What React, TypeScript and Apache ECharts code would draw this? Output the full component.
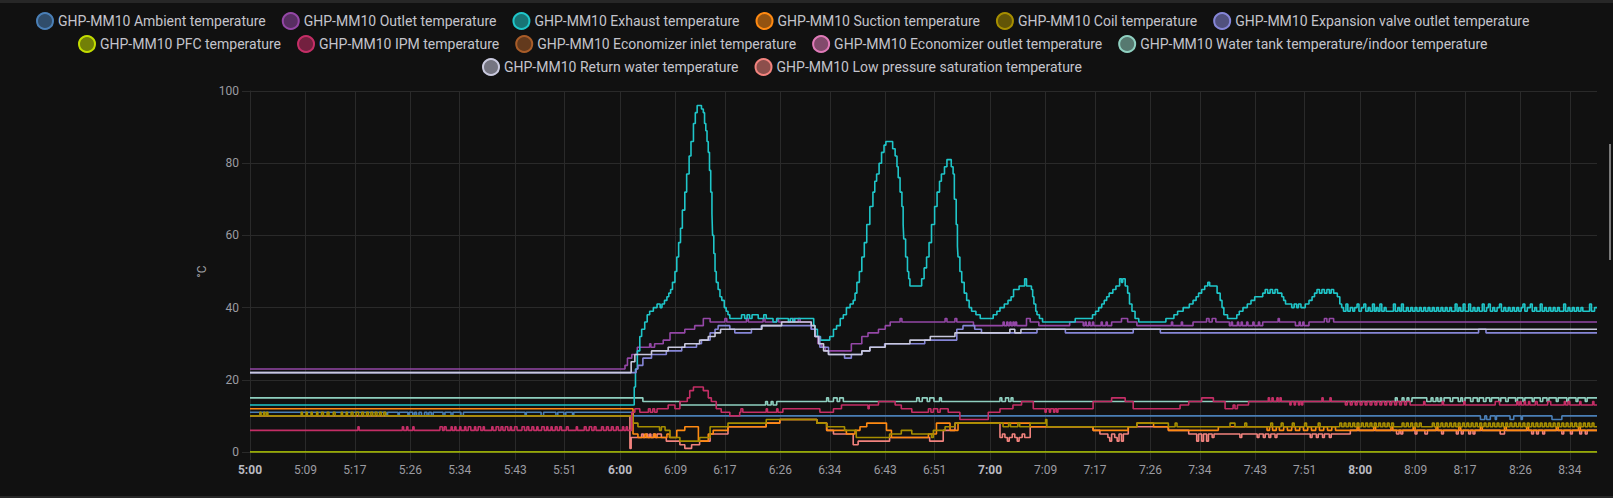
import { useEffect, useRef } from 'react';
import * as echarts from 'echarts';

// minutes after 5:00 → value (°C); every series is a step line that changes at the given minute
const X_MAX = 218.4;
const xTicks = [0, 9, 17, 26, 34, 43, 51, 60, 69, 77, 86, 94, 103, 111, 120, 129, 137, 146, 154, 163, 171, 180, 189, 197, 206, 214];

const seriesNames = [
  'GHP-MM10 Ambient temperature',
  'GHP-MM10 Outlet temperature',
  'GHP-MM10 Exhaust temperature',
  'GHP-MM10 Suction temperature',
  'GHP-MM10 Coil temperature',
  'GHP-MM10 Expansion valve outlet temperature',
  'GHP-MM10 PFC temperature',
  'GHP-MM10 IPM temperature',
  'GHP-MM10 Economizer inlet temperature',
  'GHP-MM10 Economizer outlet temperature',
  'GHP-MM10 Water tank temperature/indoor temperature',
  'GHP-MM10 Return water temperature',
  'GHP-MM10 Low pressure saturation temperature',
];

const lineColors = [
  '#4a7fb6', '#9447a6', '#1fc6c9', '#ff8a12', '#a68e00', '#8686d8', '#c2dc00',
  '#c42e66', '#a85c28', '#e07ab8', '#8fd0c0', '#c9c9de', '#f2837e',
];

const ambientData = [
  [0, 11], [22.1, 10], [22.3, 11], [24.0, 10], [24.2, 11], [25.6, 10], [25.8, 11], [26.4, 10], [26.7, 11],
  [27.0, 10], [27.4, 11], [27.8, 10], [28.3, 11], [28.7, 10], [29.0, 11], [29.4, 10], [29.7, 11], [31.3, 10],
  [31.6, 11], [32.6, 10], [32.9, 11], [34.2, 10], [34.6, 11], [44.6, 10], [44.8, 11], [47.2, 10], [47.6, 11],
  [49.6, 10], [49.9, 11], [50.9, 10], [51.2, 11], [52.3, 10], [52.5, 11], [62.1, 10], [199.5, 9], [200.2, 10],
  [200.5, 9], [201.1, 10], [201.9, 9], [202.1, 10], [204.3, 9], [204.9, 10], [206.1, 9], [206.3, 10],
  [211.1, 9], [212.7, 10], [218.4, 10],
];

const outletData = [
  [0, 23], [60.8, 24], [61.2, 26], [61.9, 27], [62.8, 29], [64.8, 30], [65.0, 29], [65.6, 30], [67.0, 31],
  [68.1, 33], [70.5, 34], [72.1, 35], [73.5, 37], [74.6, 36], [77.0, 37], [77.3, 36], [80.5, 37], [80.8, 36],
  [83.2, 37], [83.5, 36], [85.4, 37], [85.7, 36], [88.0, 37], [88.3, 36], [88.9, 37], [89.2, 36], [91.0, 34],
  [91.6, 32], [92.1, 30], [92.7, 29], [93.3, 28], [97.5, 30], [99.2, 32], [100.2, 33], [101.9, 34], [103.0, 35],
  [103.8, 36], [105.4, 37], [105.7, 36], [112.7, 37], [113.0, 36], [114.3, 37], [114.6, 36], [117.3, 35],
  [122.1, 36], [122.3, 35], [122.7, 36], [122.9, 35], [123.2, 36], [123.4, 35], [123.7, 36], [123.9, 35],
  [124.1, 36], [124.3, 35], [125.9, 37], [126.5, 36], [127.9, 35], [132.9, 36], [135.1, 35], [135.4, 36],
  [135.6, 35], [136.0, 36], [136.2, 35], [136.6, 36], [136.8, 35], [138.0, 36], [138.2, 35], [138.8, 36],
  [139.0, 35], [139.7, 36], [141.3, 37], [142.3, 36], [143.8, 35], [149.4, 36], [149.6, 35], [151.0, 36],
  [151.2, 35], [152.9, 36], [155.1, 37], [155.5, 36], [156.0, 37], [156.6, 36], [158.8, 35], [159.1, 36],
  [159.3, 35], [160.1, 36], [160.3, 35], [160.7, 36], [160.9, 35], [161.6, 36], [161.8, 35], [162.6, 36],
  [162.8, 35], [163.5, 36], [163.7, 35], [164.2, 36], [166.7, 37], [166.9, 36], [169.5, 35], [170.1, 36],
  [170.3, 35], [170.7, 36], [170.9, 35], [171.7, 36], [174.2, 37], [174.6, 36], [175.0, 37], [175.7, 36],
  [218.4, 36],
];

const exhaustData = [
  [0, 13], [62.0, 13], [62.3, 18], [62.5, 23], [62.8, 28], [63.2, 32], [63.5, 34], [64.0, 36], [64.4, 38],
  [64.8, 39], [65.4, 40], [66.0, 41], [66.5, 40], [66.8, 41], [67.2, 42], [67.6, 43], [67.9, 44], [68.2, 45],
  [68.5, 47], [68.9, 50], [69.2, 54], [69.5, 58], [69.8, 62], [70.1, 67], [70.5, 72], [70.8, 77], [71.2, 82],
  [71.5, 86], [71.9, 91], [72.2, 94], [72.5, 96], [72.9, 96], [73.2, 95], [73.5, 94], [73.7, 91], [73.9, 89],
  [74.1, 86], [74.3, 83], [74.5, 78], [74.7, 72], [74.9, 66], [75.0, 60], [75.2, 55], [75.4, 50], [75.6, 47],
  [75.9, 45], [76.2, 43], [76.5, 42], [76.9, 40], [77.2, 39], [77.5, 38], [77.8, 37], [79.7, 38], [80.2, 37],
  [80.6, 38], [81.0, 37], [81.4, 38], [82.4, 37], [83.3, 38], [83.7, 37], [84.8, 36], [85.4, 37], [87.3, 36],
  [87.6, 37], [88.0, 36], [88.3, 37], [91.1, 37], [91.4, 35], [91.6, 34], [92.0, 32], [92.5, 31], [94.0, 32],
  [94.6, 34], [95.1, 35], [95.7, 37], [96.2, 38], [96.7, 40], [97.3, 41], [97.8, 42], [98.1, 44], [98.4, 47],
  [98.8, 50], [99.2, 54], [99.6, 58], [100.0, 63], [100.5, 68], [101.0, 72], [101.3, 75], [101.6, 77],
  [102.0, 80], [102.4, 83], [102.8, 85], [103.1, 86], [103.9, 86], [104.2, 84], [104.6, 82], [104.9, 79],
  [105.1, 76], [105.4, 72], [105.7, 68], [105.9, 63], [106.0, 59], [106.3, 54], [106.6, 50], [106.8, 48],
  [107.0, 46], [108.5, 46], [108.9, 48], [109.3, 51], [109.7, 54], [110.1, 58], [110.5, 63], [111.0, 68],
  [111.4, 72], [111.8, 75], [112.1, 77], [112.6, 79], [113.0, 81], [113.3, 81], [113.7, 79], [114.0, 77],
  [114.2, 70], [114.5, 63], [114.7, 57], [114.8, 54], [115.1, 50], [115.4, 47], [115.8, 44], [116.2, 42],
  [116.6, 40], [117.0, 39], [117.7, 38], [118.4, 37], [119.4, 37], [120.5, 38], [121.1, 39], [121.6, 40],
  [122.3, 41], [122.9, 42], [123.4, 43], [123.8, 45], [124.7, 46], [125.6, 48], [125.9, 46], [126.7, 45],
  [126.9, 43], [127.1, 41], [127.4, 39], [127.6, 38], [128.0, 37], [128.5, 36], [133.8, 37], [136.6, 38],
  [137.1, 39], [137.6, 40], [138.1, 41], [138.5, 42], [138.9, 43], [139.3, 44], [139.9, 45], [140.4, 46],
  [141.0, 48], [141.3, 47], [141.5, 48], [141.9, 46], [142.3, 44], [142.6, 41], [143.0, 39], [143.5, 37],
  [144.1, 36], [148.5, 37], [149.8, 38], [150.4, 39], [151.3, 40], [152.3, 41], [152.9, 42], [153.4, 43],
  [153.8, 44], [154.3, 45], [154.8, 46], [155.3, 47], [155.6, 46], [156.3, 46], [156.8, 44], [157.3, 42],
  [157.6, 40], [157.9, 38], [158.5, 37], [160.0, 38], [160.4, 39], [161.0, 40], [161.7, 41], [162.3, 42],
  [162.9, 43], [164.2, 44], [164.6, 45], [165.0, 44], [165.4, 45], [165.8, 44], [166.2, 45], [166.6, 44],
  [167.3, 43], [167.6, 42], [167.9, 41], [168.9, 40], [169.3, 41], [169.7, 40], [170.0, 41], [170.4, 40],
  [171.1, 41], [171.7, 42], [172.2, 43], [172.6, 44], [173.0, 45], [173.4, 44], [173.8, 45], [174.2, 44],
  [174.6, 45], [175.0, 44], [175.3, 45], [175.7, 44], [176.3, 43], [176.7, 41], [177.0, 40], [177.3, 39],
  [177.7, 41], [178.0, 39], [178.4, 40], [178.8, 39], [179.1, 40], [179.5, 41], [179.8, 39], [180.2, 40],
  [180.6, 41], [180.9, 39], [181.3, 40], [181.6, 39], [182.0, 41], [182.3, 39], [182.6, 40], [182.9, 39],
  [183.2, 41], [183.5, 39], [183.9, 40], [184.2, 39], [185.4, 41], [185.7, 39], [186.1, 40], [186.4, 39],
  [186.7, 41], [187.0, 39], [187.5, 40], [187.8, 39], [188.2, 40], [188.5, 39], [188.9, 40], [189.2, 39],
  [189.6, 40], [189.9, 39], [190.3, 40], [190.6, 39], [191.0, 40], [191.3, 39], [191.7, 40], [192.0, 39],
  [192.4, 40], [192.7, 39], [193.1, 40], [193.4, 39], [193.8, 40], [194.1, 39], [194.5, 40], [194.8, 39],
  [195.4, 41], [195.7, 39], [196.0, 40], [196.3, 39], [196.7, 41], [197.0, 39], [197.6, 41], [197.9, 39],
  [198.3, 40], [198.6, 39], [199.0, 40], [199.3, 39], [199.8, 41], [200.1, 39], [200.5, 40], [200.8, 41],
  [201.1, 39], [201.5, 40], [201.8, 39], [202.2, 40], [202.6, 41], [202.9, 39], [203.3, 40], [203.6, 39],
  [204.0, 40], [204.3, 39], [204.7, 40], [205.0, 39], [205.4, 40], [205.7, 39], [206.1, 40], [206.4, 41],
  [206.7, 39], [207.1, 40], [207.6, 41], [207.9, 39], [208.3, 40], [208.6, 39], [209.2, 41], [209.5, 39],
  [209.9, 40], [210.2, 39], [210.6, 40], [210.9, 39], [211.3, 40], [211.6, 39], [212.0, 40], [212.3, 39],
  [213.0, 41], [213.3, 39], [213.7, 40], [214.0, 39], [214.4, 40], [214.7, 39], [215.1, 40], [215.4, 39],
  [215.8, 40], [216.1, 39], [217.2, 41], [217.5, 39], [218.0, 40], [218.4, 40],
];

const suctionData = [
  [0, 12], [62.1, 5], [62.9, 4], [64.0, 5], [64.3, 4], [65.5, 5], [65.8, 4], [67.6, 5], [68.0, 4], [69.2, 6],
  [70.5, 7], [72.7, 3], [74.3, 5], [75.1, 6], [77.5, 7], [83.7, 8], [85.9, 9], [91.9, 8], [93.5, 6], [96.7, 5],
  [98.1, 6], [98.9, 7], [100.0, 8], [103.2, 6], [104.0, 4], [110.0, 5], [111.3, 8], [113.5, 6], [114.8, 8],
  [126.5, 7], [136.7, 6], [142.4, 7], [143.8, 8], [146.5, 7], [148.9, 6], [157.0, 7], [164.9, 6], [165.3, 7],
  [165.8, 6], [166.4, 7], [166.9, 6], [167.6, 7], [168.2, 6], [168.9, 7], [169.5, 6], [170.2, 7], [170.8, 6],
  [171.5, 7], [172.1, 6], [172.8, 7], [173.4, 6], [174.1, 7], [174.7, 6], [175.4, 7], [176.0, 6], [179.5, 7],
  [179.8, 6], [182.2, 7], [182.5, 6], [185.0, 7], [185.3, 6], [188.6, 7], [188.9, 6], [192.3, 7], [192.6, 6],
  [196.0, 7], [196.3, 6], [199.5, 7], [199.8, 6], [203.4, 7], [203.7, 6], [207.0, 7], [207.3, 6], [211.8, 7],
  [212.1, 6], [215.4, 7], [215.7, 6], [218.4, 6],
];

const coilData = [
  [0, 10], [1.6, 11], [1.8, 10], [2.2, 11], [2.4, 10], [2.7, 11], [2.9, 10], [8.3, 11], [8.5, 10], [9.1, 11],
  [9.3, 10], [9.9, 11], [10.1, 10], [10.8, 11], [11.0, 10], [11.6, 11], [11.9, 10], [12.5, 11], [12.8, 10],
  [13.5, 11], [13.8, 10], [14.8, 11], [15.0, 10], [15.6, 11], [15.8, 10], [16.4, 11], [16.7, 10], [17.2, 11],
  [17.6, 10], [18.1, 11], [18.4, 10], [18.9, 11], [19.2, 10], [19.6, 11], [19.9, 10], [20.3, 11], [20.6, 10],
  [21.0, 11], [21.3, 10], [21.7, 11], [22.0, 10], [62.1, 8], [62.9, 7], [66.4, 6], [66.7, 7], [67.3, 6],
  [68.1, 4], [69.7, 3], [72.9, 4], [74.6, 7], [77.5, 8], [83.7, 9], [91.9, 8], [93.5, 7], [96.4, 6], [98.3, 4],
  [103.7, 5], [105.6, 6], [107.3, 5], [110.5, 4], [110.8, 6], [112.7, 7], [114.3, 8], [122.1, 7], [123.0, 8],
  [123.3, 7], [124.5, 8], [124.8, 7], [126.5, 8], [129.0, 9], [129.2, 7], [143.8, 8], [148.9, 7], [150.0, 8],
  [150.3, 7], [158.9, 8], [159.7, 7], [161.3, 8], [161.6, 7], [165.5, 8], [165.8, 7], [167.2, 8], [167.5, 7],
  [169.0, 8], [169.3, 7], [171.0, 8], [171.3, 7], [173.2, 8], [173.5, 7], [176.7, 8], [177.0, 7], [177.4, 8],
  [177.7, 7], [178.1, 8], [178.4, 7], [178.8, 8], [179.1, 7], [179.5, 8], [179.8, 7], [180.2, 8], [180.5, 7],
  [180.9, 8], [181.2, 7], [181.6, 8], [181.9, 7], [182.3, 8], [182.6, 7], [183.0, 8], [183.3, 7], [183.7, 8],
  [184.0, 7], [184.4, 8], [184.7, 7], [185.1, 8], [185.4, 7], [186.8, 8], [187.1, 7], [187.5, 8], [187.8, 7],
  [188.2, 8], [188.5, 7], [188.9, 8], [189.2, 7], [189.6, 8], [189.9, 7], [191.7, 8], [192.0, 7], [192.4, 8],
  [192.7, 7], [193.1, 8], [193.4, 7], [193.8, 8], [194.1, 7], [194.5, 8], [194.8, 7], [195.2, 8], [195.5, 7],
  [195.9, 8], [196.2, 7], [196.6, 8], [196.9, 7], [197.3, 8], [197.6, 7], [198.0, 8], [198.3, 7], [198.7, 8],
  [199.0, 7], [199.4, 8], [199.7, 7], [200.1, 8], [200.4, 7], [200.8, 8], [201.1, 7], [201.5, 8], [201.8, 7],
  [202.2, 8], [202.5, 7], [202.9, 8], [203.2, 7], [203.6, 8], [203.9, 7], [204.3, 8], [204.6, 7], [205.0, 8],
  [205.3, 7], [205.7, 8], [206.0, 7], [206.4, 8], [206.7, 7], [207.1, 8], [207.4, 7], [207.8, 8], [208.1, 7],
  [208.5, 8], [208.8, 7], [209.2, 8], [209.5, 7], [209.9, 8], [210.2, 7], [210.6, 8], [210.9, 7], [211.3, 8],
  [211.6, 7], [212.0, 8], [212.3, 7], [212.7, 8], [213.0, 7], [213.4, 8], [213.7, 7], [214.1, 8], [214.4, 7],
  [214.8, 8], [215.1, 7], [215.5, 8], [215.8, 7], [216.2, 8], [216.5, 7], [216.9, 8], [217.2, 7], [217.6, 8],
  [217.9, 7], [218.4, 7],
];

const expansionData = [
  [0, 22], [62.4, 22], [62.6, 23], [62.9, 24], [63.7, 26], [65.1, 27], [67.5, 28], [70.0, 29], [72.4, 30],
  [73.2, 31], [74.6, 33], [75.4, 34], [75.9, 35], [77.8, 34], [78.6, 33], [81.3, 34], [82.9, 35], [91.0, 34],
  [91.6, 32], [92.4, 29], [93.8, 27], [96.4, 26], [97.5, 27], [99.2, 28], [100.5, 29], [102.9, 30], [109.4, 31],
  [114.6, 34], [115.6, 35], [117.5, 34], [118.6, 33], [127.6, 34], [132.2, 33], [143.2, 34], [147.6, 33],
  [199.2, 34], [200.4, 33], [218.4, 33],
];

const pfcData = [[0, 0], [218.4, 0]];
const ecoInletData: number[][] = [];
const ecoOutletData: number[][] = [];

const ipmData = [
  [0, 6], [17.5, 7], [17.7, 6], [24.7, 7], [24.9, 6], [25.4, 7], [25.6, 6], [26.4, 7], [26.6, 6], [30.8, 7],
  [31.2, 6], [31.5, 7], [31.8, 6], [32.6, 7], [32.8, 6], [33.2, 7], [33.4, 6], [34.0, 7], [34.2, 6], [34.8, 7],
  [35.0, 6], [35.4, 7], [35.8, 6], [36.4, 7], [36.6, 6], [37.0, 7], [37.4, 6], [37.8, 7], [38.0, 6], [39.2, 7],
  [39.4, 6], [39.9, 7], [40.3, 6], [40.7, 7], [41.0, 6], [41.4, 7], [41.8, 6], [42.2, 7], [42.4, 6], [42.9, 7],
  [43.3, 6], [44.1, 7], [44.5, 6], [44.9, 7], [45.2, 6], [45.7, 7], [46.0, 6], [46.5, 7], [46.7, 6], [47.3, 7],
  [47.7, 6], [48.1, 7], [48.3, 6], [48.8, 7], [49.0, 6], [49.5, 7], [49.8, 6], [50.2, 7], [50.5, 6], [51.3, 7],
  [51.6, 6], [52.9, 7], [53.1, 6], [54.2, 7], [54.5, 6], [55.0, 7], [55.4, 6], [55.8, 7], [56.1, 6], [57.0, 7],
  [57.3, 6], [57.8, 7], [58.1, 6], [58.6, 7], [58.9, 6], [59.4, 7], [59.7, 6], [60.4, 7], [60.6, 6], [61.0, 7],
  [61.2, 6], [61.9, 11], [62.4, 12], [63.2, 11], [64.6, 12], [64.9, 11], [65.3, 12], [65.6, 11], [66.0, 12],
  [67.8, 13], [68.9, 12], [69.7, 14], [70.9, 15], [71.3, 17], [71.9, 18], [73.5, 17], [74.3, 15], [74.8, 14],
  [75.6, 12], [76.4, 11], [77.8, 10], [79.4, 11], [79.6, 12], [79.9, 11], [83.7, 12], [83.9, 11], [85.4, 12],
  [85.6, 11], [86.4, 12], [92.4, 11], [94.6, 12], [95.9, 13], [100.2, 12], [100.4, 13], [101.9, 14],
  [104.6, 13], [105.6, 12], [107.3, 11], [110.0, 12], [110.4, 11], [110.8, 12], [111.5, 11], [111.9, 12],
  [113.2, 11], [115.1, 9], [119.7, 11], [121.6, 12], [123.7, 13], [125.1, 14], [127.0, 12], [128.9, 11],
  [129.1, 12], [129.6, 11], [129.8, 12], [130.3, 11], [130.5, 12], [130.8, 11], [131.0, 12], [136.7, 14],
  [139.7, 15], [141.9, 14], [143.2, 12], [150.8, 13], [152.2, 14], [154.3, 15], [156.2, 14], [158.1, 12],
  [159.4, 13], [159.7, 12], [160.1, 13], [161.9, 14], [165.1, 15], [165.3, 14], [165.7, 15], [165.9, 14],
  [166.5, 15], [166.7, 14], [167.0, 15], [167.2, 14], [168.6, 13], [168.8, 14], [169.3, 13], [169.5, 14],
  [170.0, 13], [170.2, 14], [170.5, 13], [170.7, 14], [173.8, 15], [174.0, 14], [175.1, 15], [175.3, 14],
  [177.6, 13], [177.9, 14], [178.4, 13], [178.7, 14], [179.2, 13], [179.5, 14], [180.0, 13], [180.3, 14],
  [180.8, 13], [181.1, 14], [181.6, 13], [181.9, 14], [182.4, 13], [182.7, 14], [183.2, 13], [183.5, 14],
  [184.0, 13], [184.3, 14], [184.8, 13], [185.1, 14], [185.6, 13], [185.9, 14], [186.4, 13], [186.7, 14],
  [187.2, 13], [187.5, 14], [188.1, 13], [190.3, 14], [190.5, 13], [193.3, 14], [193.5, 13], [196.8, 14],
  [197.0, 13], [201.9, 14], [202.6, 13], [205.4, 14], [205.6, 13], [205.9, 14], [206.1, 13], [206.6, 14],
  [206.8, 13], [207.3, 14], [207.5, 13], [208.4, 14], [208.7, 13], [210.4, 14], [210.9, 13], [213.1, 14],
  [213.3, 13], [213.7, 14], [214.0, 13], [215.6, 14], [215.8, 13], [217.7, 14], [217.9, 13], [218.4, 13],
];

const waterTankData = [
  [0, 15], [63.7, 14], [69.7, 13], [83.6, 14], [83.9, 13], [84.5, 14], [84.8, 13], [85.4, 14], [93.5, 15],
  [93.8, 14], [94.6, 15], [95.2, 14], [95.6, 15], [96.2, 14], [108.1, 15], [108.5, 14], [109.0, 15],
  [109.8, 14], [110.2, 15], [110.9, 14], [111.8, 15], [112.1, 14], [121.6, 15], [121.9, 14], [122.5, 15],
  [123.0, 14], [123.4, 15], [123.7, 14], [185.7, 15], [186.0, 14], [186.8, 15], [187.1, 14], [187.6, 15],
  [187.9, 14], [188.4, 15], [190.8, 14], [191.5, 15], [191.8, 14], [192.3, 15], [192.6, 14], [193.0, 15],
  [193.2, 14], [193.6, 15], [194.6, 14], [195.0, 15], [195.9, 14], [196.3, 15], [196.6, 14], [197.0, 15],
  [197.9, 14], [198.3, 15], [199.0, 14], [199.3, 15], [200.0, 14], [200.4, 15], [201.0, 14], [201.3, 15],
  [202.5, 14], [202.8, 15], [203.6, 14], [204.0, 15], [205.2, 14], [205.5, 15], [206.4, 14], [206.7, 15],
  [207.9, 14], [208.2, 15], [209.2, 14], [209.6, 15], [210.3, 14], [210.6, 15], [211.8, 14], [212.1, 15],
  [213.5, 14], [213.8, 15], [215.0, 14], [215.3, 15], [216.5, 14], [216.8, 15], [218.4, 15],
];

const returnWaterData = [
  [0, 22], [61.2, 22], [61.8, 25], [62.4, 27], [65.1, 28], [67.8, 29], [70.5, 30], [72.9, 31], [74.3, 32],
  [75.4, 33], [76.3, 34], [83.0, 35], [86.2, 36], [91.0, 35], [91.6, 32], [92.2, 30], [93.0, 28], [93.8, 27],
  [99.2, 28], [100.5, 29], [103.0, 30], [107.0, 31], [110.3, 32], [114.3, 33], [123.2, 34], [124.0, 33],
  [125.0, 34], [218.4, 34],
];

const lowPressureData = [
  [0, 10], [61.6, 1], [61.8, 4], [63.5, 5], [63.8, 4], [64.3, 5], [64.5, 4], [64.8, 5], [65.0, 4], [65.4, 5],
  [65.6, 4], [66.0, 5], [66.7, 4], [67.5, 3], [69.7, 2], [70.5, 1], [71.6, 2], [72.9, 3], [74.6, 5], [77.5, 7],
  [83.7, 8], [85.9, 9], [91.9, 8], [93.5, 6], [94.6, 5], [97.8, 2], [98.6, 3], [103.7, 4], [110.2, 3],
  [112.4, 6], [114.3, 8], [121.6, 4], [122.0, 5], [122.4, 4], [122.8, 3], [123.1, 4], [123.6, 5], [124.0, 4],
  [124.4, 3], [124.7, 4], [125.2, 5], [125.6, 4], [126.5, 7], [136.7, 6], [137.8, 5], [139.1, 4], [139.4, 3],
  [139.7, 5], [140.2, 4], [140.6, 3], [140.9, 5], [141.3, 3], [141.6, 5], [142.4, 7], [148.9, 6], [152.2, 5],
  [153.5, 3], [153.8, 5], [154.3, 3], [154.6, 5], [155.1, 3], [155.4, 5], [156.0, 4], [156.3, 5], [160.5, 4],
  [160.8, 5], [163.3, 4], [163.6, 5], [164.3, 4], [164.6, 5], [165.2, 4], [165.5, 5], [166.2, 4], [166.5, 5],
  [171.9, 4], [172.2, 5], [172.9, 4], [173.2, 5], [173.9, 4], [174.2, 5], [175.0, 4], [175.3, 5], [178.4, 6],
  [185.9, 5], [186.3, 6], [186.6, 5], [186.9, 6], [188.9, 5], [189.2, 6], [190.5, 5], [190.9, 6], [193.2, 5],
  [193.5, 6], [195.6, 5], [195.9, 6], [196.4, 5], [196.7, 6], [197.6, 5], [197.9, 6], [198.3, 5], [198.6, 6],
  [202.7, 5], [203.4, 6], [207.8, 5], [208.1, 6], [208.6, 5], [208.9, 6], [209.6, 5], [209.9, 6], [212.7, 5],
  [213.0, 6], [214.1, 5], [214.4, 6], [215.6, 5], [215.9, 6], [216.5, 5], [216.8, 6], [218.4, 6],
];

const seriesData = [
  ambientData, outletData, exhaustData, suctionData, coilData, expansionData, pfcData,
  ipmData, ecoInletData, ecoOutletData, waterTankData, returnWaterData, lowPressureData,
];

// drawn under the others where they overlap
const lowZ = [10, 12];

const legendRows = [seriesNames.slice(0, 6), seriesNames.slice(6, 11), seriesNames.slice(11)];
const legendLeft = [36, 78, 482];
const legendTop = [12, 35, 58];

const GRID_COLOR = '#2a2a2a';

function withAlpha(hex: string, a: number): string {
  const n = parseInt(hex.slice(1), 16);
  return `rgba(${(n >> 16) & 255}, ${(n >> 8) & 255}, ${n & 255}, ${a})`;
}

function formatTime(v: number): string {
  const h = 5 + Math.floor(v / 60);
  const m = Math.round(v % 60);
  return `${h}:${m.toString().padStart(2, '0')}`;
}

export default function App() {
  const chartRef = useRef<HTMLDivElement>(null);

  useEffect(() => {
    if (!chartRef.current) return;
    const chart = echarts.init(chartRef.current, undefined, { renderer: 'svg' });

    const option: echarts.EChartsOption = {
      animation: false,
      backgroundColor: '#111111',
      textStyle: { fontFamily: 'Roboto' },
      legend: legendRows.map((row, i) => ({
        data: row,
        left: legendLeft[i],
        top: legendTop[i],
        padding: 0,
        icon: 'circle',
        itemWidth: 16,
        itemHeight: 16,
        itemGap: 16,
        selectedMode: false,
        textStyle: { color: '#c4c4cc', fontSize: 14, fontFamily: 'Roboto' },
      })),
      grid: { left: 250, right: 16, top: 91, bottom: 46 },
      xAxis: {
        type: 'value',
        min: 0,
        max: X_MAX,
        axisLine: { show: true, lineStyle: { color: GRID_COLOR } },
        axisTick: { show: true, customValues: xTicks, length: 8, lineStyle: { color: GRID_COLOR } },
        axisLabel: {
          customValues: xTicks,
          margin: 12,
          color: '#9c9ca2',
          fontSize: 12,
          fontFamily: 'Roboto',
          formatter: (v: number) => (v % 60 === 0 ? `{b|${formatTime(v)}}` : formatTime(v)),
          rich: { b: { fontWeight: 'bold', color: '#b9b9c0', fontSize: 12, fontFamily: 'Roboto' } },
        },
        splitLine: { show: true, lineStyle: { color: GRID_COLOR, width: 1 } },
      },
      yAxis: {
        type: 'value',
        min: 0,
        max: 100,
        interval: 20,
        name: '°C',
        nameLocation: 'middle',
        nameGap: 34,
        nameTextStyle: { color: '#a0a0a6', fontSize: 12, fontFamily: 'Roboto' },
        axisLine: { show: true, lineStyle: { color: GRID_COLOR } },
        axisTick: { show: true, length: 8, lineStyle: { color: GRID_COLOR } },
        axisLabel: { margin: 11, color: '#9c9ca2', fontSize: 12, fontFamily: 'Roboto' },
        splitLine: { show: true, lineStyle: { color: GRID_COLOR, width: 1 } },
      },
      graphic: [
        { type: 'rect', shape: { x: 0, y: 0, width: 1613, height: 3 }, style: { fill: '#272727' }, silent: true },
        { type: 'rect', shape: { x: 0, y: 496, width: 1613, height: 2 }, style: { fill: '#272727' }, silent: true },
        { type: 'rect', shape: { x: 1609, y: 144, width: 2, height: 116 }, style: { fill: '#7a7a7a' }, silent: true },
      ],
      series: seriesNames.map((name, i) => ({
        name,
        type: 'line',
        step: 'end',
        data: seriesData[i],
        showSymbol: false,
        symbol: 'none',
        silent: true,
        z: lowZ.includes(i) ? 1 : 2,
        lineStyle: { width: 1.6, color: lineColors[i] },
        itemStyle: { color: withAlpha(lineColors[i], 0.55), borderColor: lineColors[i], borderWidth: 1 },
      })),
    };

    chart.setOption(option);
    return () => {
      chart.dispose();
    };
  }, []);

  return (
    <div style={{ position: 'fixed', left: 0, top: 0, width: 1613, height: 498, background: '#111111' }}>
      <div ref={chartRef} style={{ width: '1613px', height: '498px' }} />
    </div>
  );
}
